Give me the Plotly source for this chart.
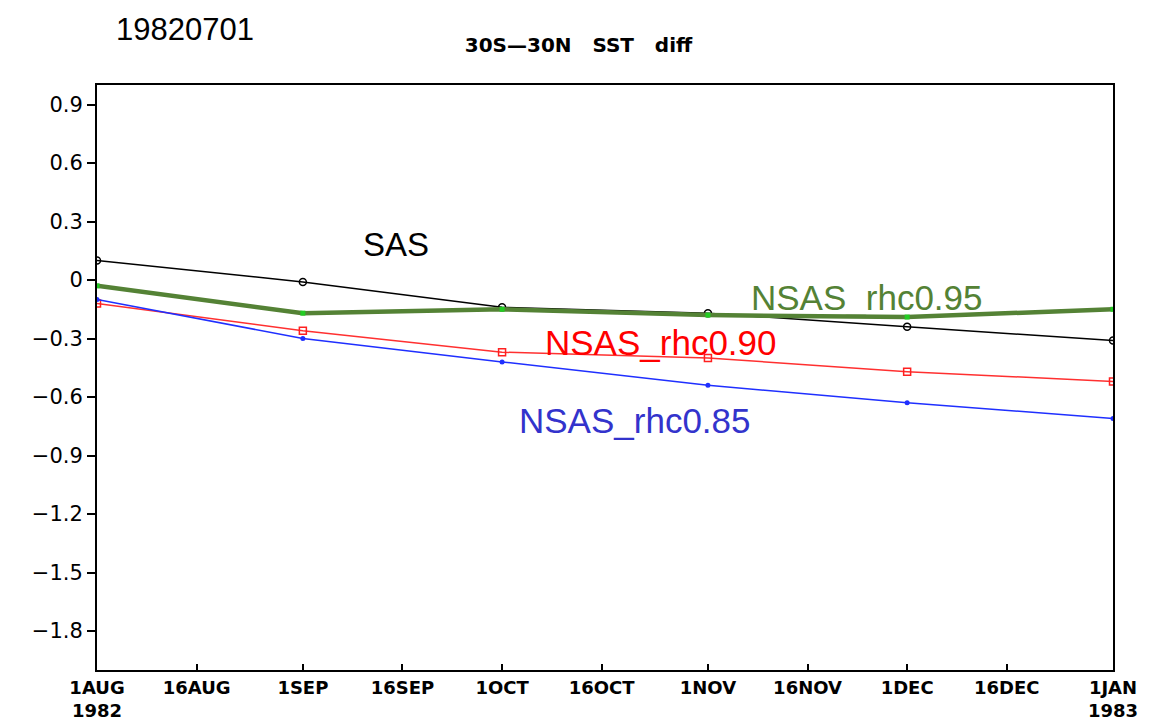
import plotly.graph_objects as go

dates = ["1982-08-01", "1982-09-01", "1982-10-01", "1982-11-01", "1982-12-01", "1983-01-01"]
sas = [0.10, -0.01, -0.14, -0.17, -0.24, -0.31]
rhc095 = [-0.03, -0.17, -0.15, -0.18, -0.19, -0.15]
rhc090 = [-0.12, -0.26, -0.37, -0.40, -0.47, -0.52]
rhc085 = [-0.10, -0.30, -0.42, -0.54, -0.63, -0.71]

tick_dates = ["1982-08-01", "1982-08-16", "1982-09-01", "1982-09-16", "1982-10-01", "1982-10-16",
              "1982-11-01", "1982-11-16", "1982-12-01", "1982-12-16", "1983-01-01"]
tick_text = ["1AUG<br>1982", "16AUG", "1SEP", "16SEP", "1OCT", "16OCT",
             "1NOV", "16NOV", "1DEC", "16DEC", "1JAN<br>1983"]
y_ticks = [0.9, 0.6, 0.3, 0, -0.3, -0.6, -0.9, -1.2, -1.5, -1.8]
y_text = ["0.9", "0.6", "0.3", "0", "\u22120.3", "\u22120.6", "\u22120.9", "\u22121.2", "\u22121.5", "\u22121.8"]

fig = go.Figure()
fig.add_trace(go.Scatter(x=dates, y=sas, mode="lines+markers", name="SAS",
                         line=dict(color="black", width=1.5),
                         marker=dict(symbol="circle-open", size=7, color="black", line=dict(width=1.5))))
fig.add_trace(go.Scatter(x=dates, y=rhc090, mode="lines+markers", name="NSAS_rhc0.90",
                         line=dict(color="#ff3030", width=1.5),
                         marker=dict(symbol="square-open", size=7, color="#ff2020", line=dict(width=1.5))))
fig.add_trace(go.Scatter(x=dates, y=rhc085, mode="lines+markers", name="NSAS_rhc0.85",
                         line=dict(color="#1f2fff", width=1.5),
                         marker=dict(symbol="circle", size=5, color="#1f2fff")))
fig.add_trace(go.Scatter(x=dates, y=rhc095, mode="lines+markers", name="NSAS_rhc0.95",
                         line=dict(color="#548235", width=4.5),
                         marker=dict(symbol="square", size=5, color="#22cc22")))

ann_font = "Liberation Sans"
fig.add_annotation(x="1982-09-15", y=0.18, text="SAS", showarrow=False,
                   font=dict(family=ann_font, size=33, color="black"))
fig.add_annotation(x="1982-11-25", y=-0.092, text="NSAS_rhc0.95", showarrow=False,
                   font=dict(family=ann_font, size=35, color="#548235"))
fig.add_annotation(x="1982-10-25", y=-0.323, text="NSAS_rhc0.90", showarrow=False,
                   font=dict(family=ann_font, size=35, color="#ff0000"))
fig.add_annotation(x="1982-10-21", y=-0.718, text="NSAS_rhc0.85", showarrow=False,
                   font=dict(family=ann_font, size=35, color="#3333cc"))
fig.add_annotation(x=0.0866, xref="paper", y=1.128, yref="paper", xanchor="center", yanchor="top",
                   text="19820701", showarrow=False,
                   font=dict(family=ann_font, size=31, color="black"))

fig.update_layout(
    width=1141, height=712,
    margin=dict(l=89, r=36, t=77, b=50),
    paper_bgcolor="white", plot_bgcolor="white",
    showlegend=False,
    title=dict(text="<b>30S\u201430N\u00a0\u00a0\u00a0SST\u00a0\u00a0\u00a0diff</b>", x=0.5, xanchor="center",
               y=0.948, yanchor="middle",
               font=dict(family="DejaVu Sans", size=20, color="black")),
    font=dict(family="DejaVu Sans", color="black"),
)
fig.update_xaxes(type="date", range=["1982-08-01", "1983-01-01"], tickvals=tick_dates, ticktext=tick_text,
                 ticks="inside", ticklen=6, tickcolor="black", tickwidth=2, automargin=False,
                 showline=True, linecolor="black", linewidth=2, mirror=True, showgrid=False, zeroline=False,
                 tickfont=dict(family="DejaVu Sans", size=18, color="black", weight="bold"))
fig.update_yaxes(range=[-2.0, 1.0], tickvals=y_ticks, ticktext=y_text, automargin=False,
                 ticks="outside", ticklen=8, tickcolor="black", tickwidth=2,
                 showline=True, linecolor="black", linewidth=2, mirror=True, showgrid=False, zeroline=False,
                 tickfont=dict(family="DejaVu Sans", size=21, color="black"))

fig.write_html("out.html")
